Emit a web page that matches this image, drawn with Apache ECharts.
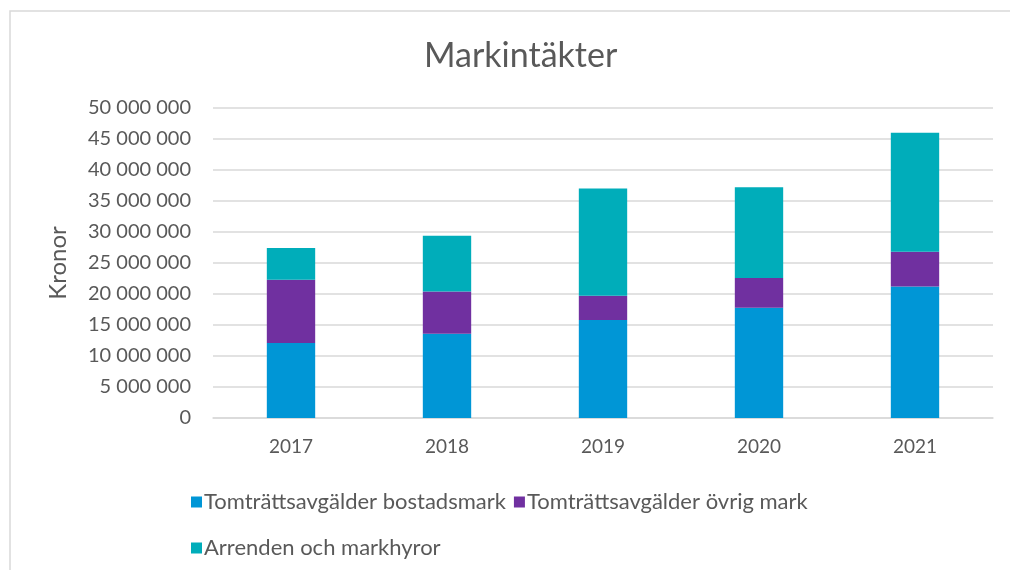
<!DOCTYPE html>
<html>
<head>
<meta charset="utf-8">
<script src="https://cdn.jsdelivr.net/npm/echarts@6/dist/echarts.min.js"></script>
<style>
  html, body { margin: 0; padding: 0; background: #fff; }
  #chart { width: 1010px; height: 570px; }
</style>
</head>
<body>
<div id="chart"></div>
<script>
// År på x-axeln
const years = ['2017', '2018', '2019', '2020', '2021'];

// Värden i kronor
const bostadsmark = [12100000, 13600000, 15800000, 17800000, 21200000];
const ovrigMark = [10200000, 6800000, 3900000, 4800000, 5600000];
const arrenden = [5100000, 9000000, 17300000, 14600000, 19200000];

const seriesNames = ['Tomträttsavgälder bostadsmark', 'Tomträttsavgälder övrig mark', 'Arrenden och markhyror'];
const colors = ['#0096D6', '#7030A0', '#00ADBA'];

const textColor = '#595959';
const fontFamily = 'Lato, "Open Sans", sans-serif';

function formatKr(v) {
    return String(v).replace(/\B(?=(\d{3})+(?!\d))/g, ' ');
}

let legendText = { color: textColor, fontSize: 22, fontFamily: fontFamily, padding: [0, 0, 0, -3] };

let option = {
    animation: false,
    // ram runt diagrammet (vänster och överkant syns)
    graphic: [{
        type: 'rect',
        shape: { x: 10, y: 11, width: 1010, height: 570 },
        style: { fill: 'none', stroke: '#d9d9d9', lineWidth: 1.5 },
        silent: true
    }],
    title: {
        text: 'Markintäkter',
        left: 419,
        top: 34,
        textStyle: { color: textColor, fontSize: 34, fontWeight: 'normal', fontFamily: fontFamily }
    },
    legend: [
        {
            data: seriesNames.slice(0, 2),
            left: 186,
            top: 486,
            itemWidth: 11,
            itemHeight: 11,
            itemGap: 8,
            icon: 'rect',
            textStyle: legendText
        },
        {
            data: seriesNames.slice(2),
            left: 186,
            top: 532,
            itemWidth: 11,
            itemHeight: 11,
            icon: 'rect',
            textStyle: legendText
        }
    ],
    grid: {
        left: 213,
        right: 17,
        top: 108,
        bottom: 152
    },
    xAxis: {
        type: 'category',
        data: years,
        axisLine: { lineStyle: { color: '#d9d9d9', width: 1.5 } },
        axisTick: { show: false },
        axisLabel: { color: textColor, fontSize: 19, fontFamily: fontFamily, margin: 19 }
    },
    yAxis: {
        type: 'value',
        min: 0,
        max: 50000000,
        interval: 5000000,
        name: 'Kronor',
        nameLocation: 'middle',
        nameGap: 143,
        nameTextStyle: { color: textColor, fontSize: 24, fontFamily: fontFamily },
        axisLine: { show: false },
        axisTick: { show: false },
        splitLine: { lineStyle: { color: '#d9d9d9', width: 1.5 } },
        axisLabel: { color: textColor, fontSize: 20, fontFamily: fontFamily, margin: 22, formatter: formatKr }
    },
    series: [
        { name: seriesNames[0], type: 'bar', stack: 'total', barWidth: '31%', itemStyle: { color: colors[0] }, data: bostadsmark },
        { name: seriesNames[1], type: 'bar', stack: 'total', barWidth: '31%', itemStyle: { color: colors[1] }, data: ovrigMark },
        { name: seriesNames[2], type: 'bar', stack: 'total', barWidth: '31%', itemStyle: { color: colors[2] }, data: arrenden }
    ]
};

let chart = echarts.init(document.getElementById('chart'));
chart.setOption(option);
</script>
</body>
</html>
